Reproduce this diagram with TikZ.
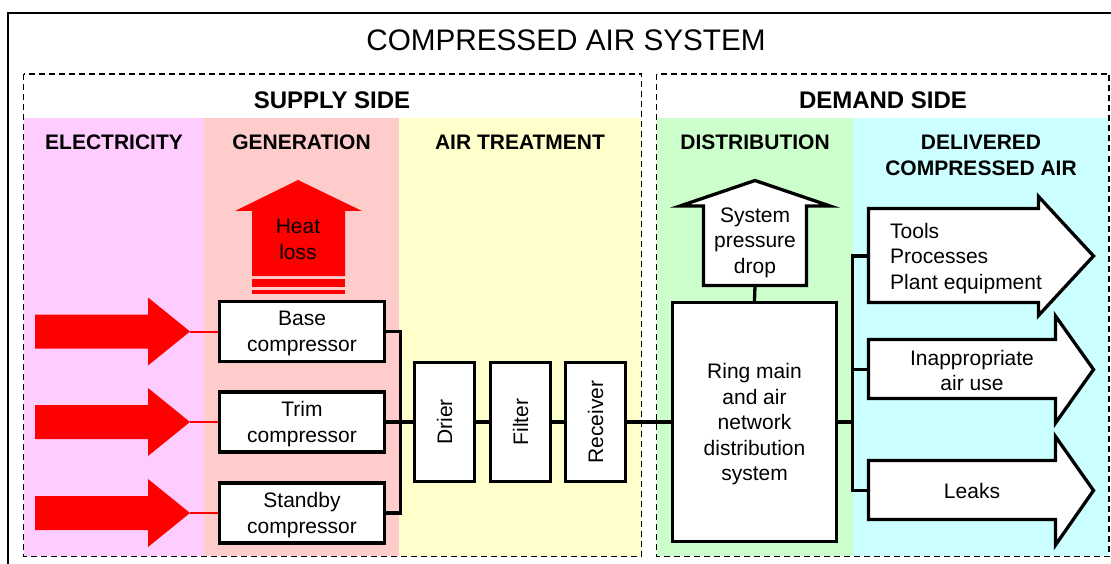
\documentclass[tikz,border=0pt]{standalone}
\usepackage{fontspec}
\setmainfont{Liberation Sans}

\definecolor{elecbg}{HTML}{FFCCFF}
\definecolor{genbg}{HTML}{FFCCCC}
\definecolor{treatbg}{HTML}{FFFFCC}
\definecolor{distbg}{HTML}{CCFFCC}
\definecolor{delivbg}{HTML}{CCFFFF}
\definecolor{heatred}{HTML}{FF0000}

\newcommand\bodyfont{\fontsize{21}{25.5}\selectfont}
\newcommand\catfont{\fontsize{21}{26}\selectfont\bfseries}
\newcommand\sidefont{\fontsize{24}{28}\selectfont\bfseries}
\newcommand\titlefont{\fontsize{29.7}{34}\selectfont}

\tikzset{
  box/.style={draw, line width=3.3pt, fill=white, align=center, inner sep=0pt,
    font=\bodyfont, text depth=0pt},
  conn/.style={line width=3.3pt},
  elec/.style={heatred, line width=2pt},
  hollow/.style={draw, fill=white, line width=3.3pt},
  zone/.style={draw, line width=1.5pt, dash pattern=on 6pt off 4pt},
  bodytext/.style={font=\bodyfont, align=center, inner sep=0pt},
  cathead/.style={font=\catfont, align=center, inner sep=0pt},
  sidehead/.style={font=\sidefont, inner sep=0pt},
}

\begin{document}
\begin{tikzpicture}[x=1pt, y=-1pt]
\useasboundingbox (0,0) rectangle (1111,564);
\clip (0,0) rectangle (1111,564);

% coloured bands
\fill[elecbg]  (24,118)  rectangle (204,556);
\fill[genbg]   (204,118) rectangle (399,556);
\fill[treatbg] (399,118) rectangle (641,556);
\fill[distbg]  (657,118) rectangle (853,556);
\fill[delivbg] (853,118) rectangle (1109,556);

% supply and demand zones, outer frame
\draw[zone] (23.5,74) rectangle (641.5,556.5);
\draw[zone] (656.5,74) rectangle (1109,556.5);
\draw[line width=2pt] (8,13) rectangle (1124,620);

% headings
\node[font=\titlefont, inner sep=0pt] (title) at (566,40) {COMPRESSED AIR SYSTEM};
\node[sidehead] (supply) at (332,100) {SUPPLY SIDE};
\node[sidehead] (demand) at (883,100) {DEMAND SIDE};
\node[cathead] (hElec)  at (114,142) {ELECTRICITY};
\node[cathead] (hGen)   at (301.5,142) {GENERATION};
\node[cathead] (hTreat) at (520,142) {AIR TREATMENT};
\node[cathead] (hDist)  at (755,142) {DISTRIBUTION};
\node[cathead] (hDeliv) at (981,155) {DELIVERED\\COMPRESSED AIR};

% heat loss arrow
\fill[heatred] (252,276) -- (252,211) -- (235,211) -- (298,180) -- (362,211)
  -- (345,211) -- (345,276) -- cycle;
\fill[heatred] (252,279) rectangle (345,287);
\fill[heatred] (252,290) rectangle (345,294);
\node[bodytext] (heat) at (298,239.5) {Heat\\loss};

% compressors
\node[box, minimum width=165, minimum height=60] (base)  at (302,331.5) {Base\\compressor};
\node[box, minimum width=165, minimum height=60] (trim)  at (302,422)   {Trim\\compressor};
\node[box, minimum width=165, minimum height=60] (stand) at (302,513)   {Standby\\compressor};

% electricity supply arrows
\foreach \yy/\nm in {331.5/base, 422/trim, 513/stand}{
  \fill[heatred] (35,{\yy-17}) -- (148,{\yy-17}) -- (148,{\yy-34}) -- (190,\yy)
    -- (148,{\yy+34}) -- (148,{\yy+17}) -- (35,{\yy+17}) -- cycle;
  \coordinate (tip\nm) at (190,\yy);
  \draw[elec] (tip\nm) -- (\nm.west);
}

% air treatment
\node[box, minimum width=60, minimum height=119] (drier)  at (444.5,422) {\rotatebox{90}{Drier}};
\node[box, minimum width=60, minimum height=119] (filter) at (520.5,422) {\rotatebox{90}{Filter}};
\node[box, minimum width=60, minimum height=119] (recv)   at (595.5,422) {\rotatebox{90}{Receiver}};

% distribution
\node[box, minimum width=164, minimum height=239] (ring) at (754.5,422)
  {Ring main\\and air\\network\\distribution\\system};

% system pressure drop arrow
\draw[hollow] (703.5,285.5) -- (703.5,206) -- (680,206) -- (755,180.5) -- (830,206)
  -- (806.5,206) -- (806.5,285.5) -- cycle;
\coordinate (pdtail) at (755,285.5);
\node[bodytext] (pdrop) at (755,242.5) {System\\pressure\\drop};

% delivered compressed air arrows
\draw[hollow] (868.5,208.5) -- (1038.5,208.5) -- (1038.5,196.5) -- (1093.5,256)
  -- (1038.5,315.5) -- (1038.5,302.5) -- (868.5,302.5) -- cycle;
\draw[hollow] (868.5,339.5) -- (1055.5,339.5) -- (1055.5,316) -- (1093.5,369.5)
  -- (1055.5,423) -- (1055.5,398.5) -- (868.5,398.5) -- cycle;
\draw[hollow] (868.5,460.5) -- (1055.5,460.5) -- (1055.5,436.5) -- (1093.5,490.5)
  -- (1055.5,545) -- (1055.5,519.5) -- (868.5,519.5) -- cycle;
\coordinate (use1) at (868.5,256);
\coordinate (use2) at (868.5,369.5);
\coordinate (use3) at (868.5,490.5);
\node[bodytext, align=left, anchor=west] (tools) at (890,258.5) {Tools\\Processes\\Plant equipment};
\node[bodytext] (misuse) at (972,370.5) {Inappropriate\\air use};
\node[bodytext] (leaks) at (972,491) {Leaks};

% piping
\draw[conn] (base.east) -- ++(14,0) |- (stand.east);
\draw[conn] (trim.east) -- (drier.west);
\draw[conn] (drier.east) -- (filter.west);
\draw[conn] (filter.east) -- (recv.west);
\draw[conn] (recv.east) -- (ring.west);
\draw[conn] (ring.north) -- (pdtail);
\coordinate (dbus) at (852.5,422);
\draw[conn] (ring.east) -- (dbus);
\draw[conn] (use1) -- (use1 -| dbus) -- (use3 -| dbus) -- (use3);
\draw[conn] (use2 -| dbus) -- (use2);
\end{tikzpicture}
\end{document}
